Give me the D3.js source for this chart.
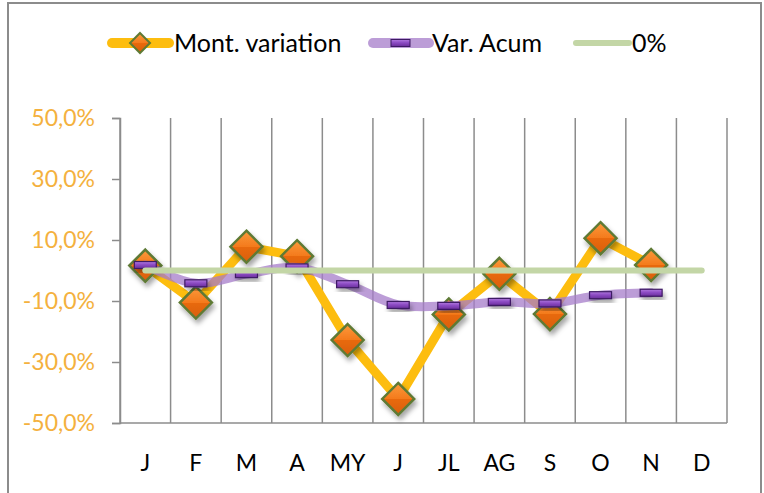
<!DOCTYPE html>
<html lang="en">
<head>
    <meta charset="UTF-8">
    <title>Monthly variation</title>
    <script src="https://d3js.org/d3.v7.min.js"></script>
    <style>
        body { margin: 0; background: #fff; }
        text { font-family: Lato, "Open Sans", sans-serif; }
        .ylab text { fill: #f4b13e; font-size: 23px; }
        .xlab { fill: #000; font-size: 23px; }
        .leg { fill: #000; font-size: 25px; }
    </style>
</head>
<body>
    <svg width="764" height="493"></svg>

    <script>
        // data (percent)
        const months = ["J", "F", "M", "A", "MY", "J ", "JL", "AG", "S", "O", "N", "D"];
        const monthLabels = ["J", "F", "M", "A", "MY", "J", "JL", "AG", "S", "O", "N", "D"];
        const montVariation = [1.6, -10.5, 7.8, 4.7, -22.8, -42.1, -14.4, -1.1, -14.3, 10.6, 1.8];
        const varAcum = [1.8, -4.2, -1.2, 1.0, -4.5, -11.3, -11.6, -10.3, -10.8, -8.1, -7.3];
        const zeroLine = [0, 0, 0, 0, 0, 0, 0, 0, 0, 0, 0, 0];
        const yTicks = [-50, -30, -10, 10, 30, 50];

        const svg = d3.select("svg");

        // filters / gradients
        const defs = svg.append("defs");
        const sh = defs.append("filter").attr("id", "shadow")
            .attr("x", "-50%").attr("y", "-50%").attr("width", "200%").attr("height", "200%");
        sh.append("feDropShadow").attr("dx", 2).attr("dy", 4).attr("stdDeviation", 2.5)
            .attr("flood-color", "#000").attr("flood-opacity", 0.35);

        const og = defs.append("linearGradient").attr("id", "orangeGrad")
            .attr("x1", 0).attr("y1", 0).attr("x2", 0).attr("y2", 1);
        og.append("stop").attr("offset", "0%").attr("stop-color", "#fb9a3c");
        og.append("stop").attr("offset", "50%").attr("stop-color", "#f47a1c");
        og.append("stop").attr("offset", "51%").attr("stop-color", "#e8690c");
        og.append("stop").attr("offset", "100%").attr("stop-color", "#d95f0a");

        const pg = defs.append("linearGradient").attr("id", "purpleGrad")
            .attr("x1", 0).attr("y1", 0).attr("x2", 0).attr("y2", 1);
        pg.append("stop").attr("offset", "0%").attr("stop-color", "#b27ae0");
        pg.append("stop").attr("offset", "45%").attr("stop-color", "#8d4cc4");
        pg.append("stop").attr("offset", "100%").attr("stop-color", "#6a2e9c");

        // outer border
        svg.append("rect")
            .attr("x", 8).attr("y", 3).attr("width", 753).attr("height", 500)
            .attr("fill", "none").attr("stroke", "#8c8c8c").attr("stroke-width", 2);

        // scales
        const x = d3.scaleBand().domain(months).range([120, 727]);
        const y = d3.scaleLinear().domain([-50, 50]).range([423, 118]);
        const cx = (d, i) => x(months[i]) + x.bandwidth() / 2;

        // vertical gridlines at category boundaries
        svg.append("g")
            .selectAll("line")
            .data(d3.range(months.length + 1))
            .join("line")
            .attr("x1", i => 120 + i * x.step())
            .attr("x2", i => 120 + i * x.step())
            .attr("y1", y(50)).attr("y2", y(-50))
            .attr("stroke", "#8c8c8c").attr("stroke-width", 1.5);

        // x axis line
        svg.append("line")
            .attr("x1", 120).attr("x2", 727).attr("y1", y(-50)).attr("y2", y(-50))
            .attr("stroke", "#8c8c8c").attr("stroke-width", 1.5);

        // y axis
        const yAxis = svg.append("g")
            .attr("class", "ylab")
            .attr("transform", "translate(120,0)")
            .call(d3.axisLeft(y).tickValues(yTicks).tickSize(8).tickPadding(17)
                .tickFormat(d => d.toFixed(1).replace(".", ",") + "%"));
        yAxis.selectAll("line").attr("stroke", "#8c8c8c").attr("stroke-width", 1.5);
        yAxis.select(".domain").attr("stroke", "#8c8c8c").attr("stroke-width", 1.5);
        yAxis.selectAll("text").attr("font-size", 23).attr("font-family", "Lato, sans-serif")
            .attr("fill", "#f4b13e");

        // x labels
        svg.append("g")
            .selectAll("text")
            .data(monthLabels)
            .join("text")
            .attr("class", "xlab")
            .attr("x", (d, i) => cx(d, i))
            .attr("y", 471)
            .attr("text-anchor", "middle")
            .text(d => d);

        // orange line (monthly variation)
        const line = d3.line().x((d, i) => cx(d, i)).y(d => y(d));
        svg.append("path")
            .datum(montVariation)
            .attr("d", line)
            .attr("fill", "none").attr("stroke", "#fdbd0f").attr("stroke-width", 9)
            .attr("stroke-linejoin", "round").attr("stroke-linecap", "round");

        const diamond = (s) => `M0,${-s}L${s},0L0,${s}L${-s},0Z`;
        svg.append("g")
            .selectAll("path")
            .data(montVariation)
            .join("path")
            .attr("transform", (d, i) => `translate(${cx(d, i)},${y(d)})`)
            .attr("d", diamond(16))
            .attr("fill", "url(#orangeGrad)")
            .attr("stroke", "#5e7a34").attr("stroke-width", 2.5)
            .attr("filter", "url(#shadow)");

        // purple smooth line (accumulated)
        const smooth = d3.line().x((d, i) => cx(d, i)).y(d => y(d)).curve(d3.curveCatmullRom.alpha(0.5));
        svg.append("path")
            .datum(varAcum)
            .attr("d", smooth)
            .attr("fill", "none").attr("stroke", "#a57cc9").attr("stroke-opacity", 0.75)
            .attr("stroke-width", 9).attr("stroke-linecap", "round");

        svg.append("g")
            .selectAll("rect")
            .data(varAcum)
            .join("rect")
            .attr("x", (d, i) => cx(d, i) - 11)
            .attr("y", d => y(d) - 3.5)
            .attr("width", 22).attr("height", 7)
            .attr("fill", "url(#purpleGrad)")
            .attr("stroke", "#3d1a63").attr("stroke-width", 1.2)
            .attr("filter", "url(#shadow)");

        // 0% line
        svg.append("path")
            .datum(zeroLine)
            .attr("d", line)
            .attr("fill", "none").attr("stroke", "#c3d6a6").attr("stroke-width", 6)
            .attr("stroke-linecap", "round");

        // legend
        const legY = 43;
        const leg = svg.append("g");
        leg.append("line").attr("x1", 112).attr("x2", 169).attr("y1", legY).attr("y2", legY)
            .attr("stroke", "#fdbd0f").attr("stroke-width", 10).attr("stroke-linecap", "round");
        leg.append("path").attr("transform", `translate(140,${legY})`).attr("d", diamond(10))
            .attr("fill", "url(#orangeGrad)").attr("stroke", "#5e7a34").attr("stroke-width", 2);
        leg.append("text").attr("class", "leg").attr("x", 174).attr("y", legY + 9).text("Mont. variation");

        leg.append("line").attr("x1", 373).attr("x2", 429).attr("y1", legY).attr("y2", legY)
            .attr("stroke", "#a57cc9").attr("stroke-opacity", 0.75).attr("stroke-width", 10)
            .attr("stroke-linecap", "round");
        leg.append("rect").attr("x", 391).attr("y", legY - 3.5).attr("width", 19).attr("height", 7)
            .attr("fill", "url(#purpleGrad)").attr("stroke", "#3d1a63").attr("stroke-width", 1);
        leg.append("text").attr("class", "leg").attr("x", 432).attr("y", legY + 9).text("Var. Acum");

        leg.append("line").attr("x1", 576).attr("x2", 629).attr("y1", legY).attr("y2", legY)
            .attr("stroke", "#c3d6a6").attr("stroke-width", 6).attr("stroke-linecap", "round");
        leg.append("text").attr("class", "leg").attr("x", 632).attr("y", legY + 9).text("0%");
    </script>
</body>
</html>
